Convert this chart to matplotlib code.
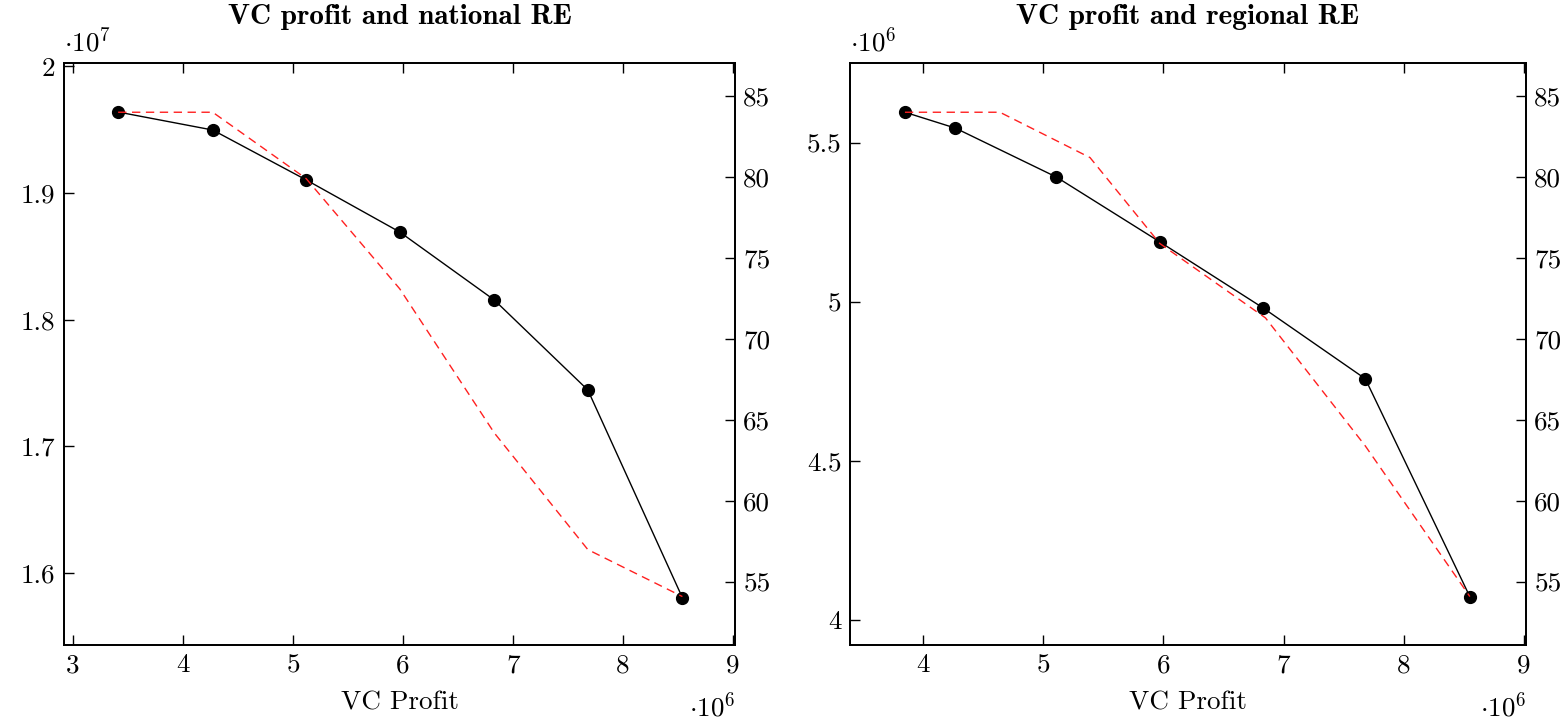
import matplotlib
matplotlib.use("Agg")
import matplotlib.pyplot as plt
from matplotlib.ticker import FuncFormatter, FixedLocator

plt.rcParams['font.family'] = ['cmr10', 'DejaVu Serif']
plt.rcParams['mathtext.fontset'] = 'cm'
plt.rcParams['axes.unicode_minus'] = False

# ---- data ----
national_profit = [3.41e6, 4.27e6, 5.12e6, 5.97e6, 6.83e6, 7.68e6, 8.54e6]
national_value = [1.9639e7, 1.9497e7, 1.9103e7, 1.8692e7, 1.8155e7, 1.7445e7, 1.5805e7]
national_re_x = [3.41e6, 4.27e6, 5.12e6, 5.97e6, 6.83e6, 7.68e6, 8.54e6]
national_re = [84.0, 84.0, 79.9, 73.1, 64.2, 57.0, 54.1]

regional_profit = [3.85e6, 4.27e6, 5.11e6, 5.97e6, 6.83e6, 7.68e6, 8.55e6]
regional_value = [5.597e6, 5.547e6, 5.393e6, 5.189e6, 4.981e6, 4.758e6, 4.072e6]
regional_re_x = [3.85e6, 4.64e6, 5.39e6, 5.97e6, 6.85e6, 7.68e6, 8.55e6]
regional_re = [84.0, 84.0, 81.2, 75.9, 71.3, 63.4, 54.1]

titles = ["VC profit and national RE", "VC profit and regional RE"]
xlabel = "VC Profit"
left_ticks = [[1.6e7, 1.7e7, 1.8e7, 1.9e7, 2.0e7], [4.0e6, 4.5e6, 5.0e6, 5.5e6]]
left_scale = [1e7, 1e6]
x_ticks = [[3e6, 4e6, 5e6, 6e6, 7e6, 8e6, 9e6], [4e6, 5e6, 6e6, 7e6, 8e6, 9e6]]
right_ticks = [55, 60, 65, 70, 75, 80, 85]

W, H = 1567, 721
fig = plt.figure(figsize=(W / 100, H / 100), dpi=100)

boxes = [(64, 63, 735, 645), (850, 63, 1526, 645)]
xlims = [(2.918e6, 9.018e6), (3.393e6, 9.017e6)]
ylims = [(1.5432e7, 2.0026e7), (3.92e6, 5.752e6)]
rlim = (51.11, 87.04)

panels = [
    (national_profit, national_value, national_re_x, national_re),
    (regional_profit, regional_value, regional_re_x, regional_re),
]

FS = 19.5

for i, (px, py, rx, ry) in enumerate(panels):
    x0, y0, x1, y1 = boxes[i]
    ax = fig.add_axes([x0 / W, 1 - y1 / H, (x1 - x0) / W, (y1 - y0) / H])
    ax.plot(px, py, color='black', lw=1.0, marker='o', ms=8.5, zorder=3)
    ax.set_xlim(*xlims[i])
    ax.set_ylim(*ylims[i])
    sc = left_scale[i]
    ax.xaxis.set_major_locator(FixedLocator(x_ticks[i]))
    ax.yaxis.set_major_locator(FixedLocator(left_ticks[i]))
    ax.xaxis.set_major_formatter(FuncFormatter(lambda v, p: "%g" % round(v / 1e6, 6)))
    ax.yaxis.set_major_formatter(FuncFormatter(lambda v, p, s=sc: "%g" % round(v / s, 6)))
    ax.tick_params(axis='x', direction='in', length=7, width=1.0, top=True,
                   labelsize=FS, pad=6)
    ax.tick_params(axis='y', direction='in', length=7, width=1.0, right=False,
                   labelsize=FS, pad=6)
    for s in ax.spines.values():
        s.set_linewidth(1.3)
    ax.set_xlabel(xlabel, fontsize=FS, labelpad=10)
    ax.set_title(titles[i], fontsize=21, fontweight='bold',
                 fontfamily=['cmb10', 'DejaVu Serif'], pad=28)
    exp_top = "7" if i == 0 else "6"
    ax.text(0.0, 1.012, r"$\cdot 10^{%s}$" % exp_top, transform=ax.transAxes,
            ha='left', va='bottom', fontsize=FS)
    ax.text(1.0, -0.08, r"$\cdot 10^{6}$", transform=ax.transAxes,
            ha='right', va='top', fontsize=FS)

    ax2 = ax.twinx()
    ax2.plot(rx, ry, color='#ff2020', lw=1.0, dashes=(6, 4), zorder=4)
    ax2.set_ylim(*rlim)
    ax2.yaxis.set_major_locator(FixedLocator(right_ticks))
    ax2.yaxis.set_major_formatter(FuncFormatter(lambda v, p: "%g" % v))
    ax2.tick_params(axis='y', direction='in', length=7, width=1.0,
                    labelsize=FS, pad=6)
    for s in ax2.spines.values():
        s.set_linewidth(1.3)

fig.savefig("out.png", dpi=100)
